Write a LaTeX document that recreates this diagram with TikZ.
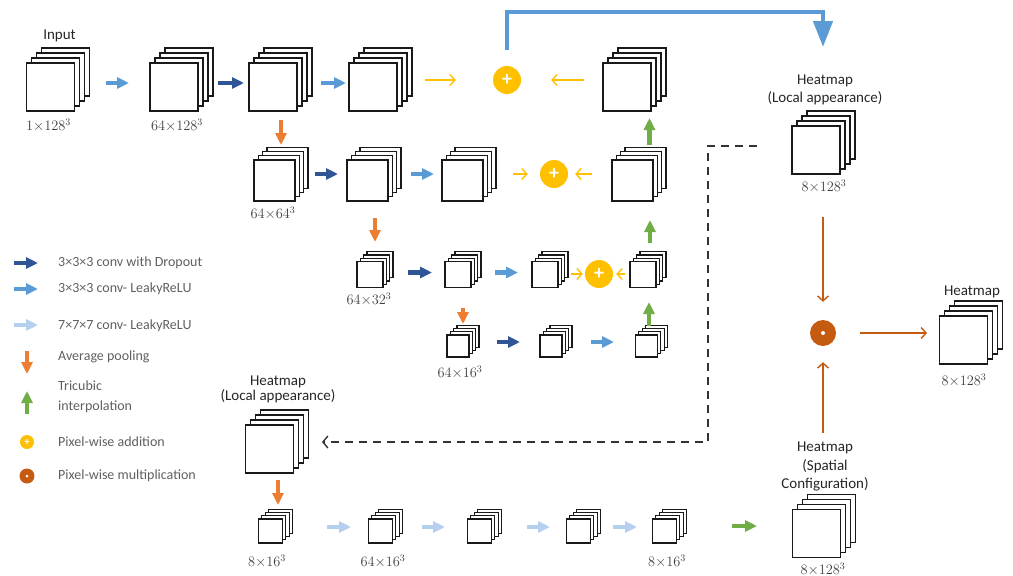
\documentclass[tikz,border=0pt]{standalone}
\usepackage{fontspec}
\setsansfont{Carlito}
\usetikzlibrary{arrows.meta,calc}
\definecolor{cDark}{RGB}{47,85,151}
\definecolor{cBlue}{RGB}{91,155,213}
\definecolor{cLight}{RGB}{180,208,238}
\definecolor{cOrange}{RGB}{237,125,49}
\definecolor{cGreen}{RGB}{112,173,71}
\definecolor{cYellow}{RGB}{255,192,0}
\definecolor{cBrown}{RGB}{197,90,17}
\definecolor{cText}{RGB}{64,64,64}
\definecolor{cLeg}{RGB}{95,95,95}
\tikzset{
  layer/.style={draw=black!90, fill=white, line width=1.2pt, inner sep=0pt, outer sep=0pt},
  blk/.style={line width=4.5pt, -{Triangle[length=12pt,width=11pt]}},
  convD/.style={blk, draw=cDark},
  convB/.style={blk, draw=cBlue},
  convL/.style={blk, draw=cLight},
  pool/.style={blk, draw=cOrange},
  interp/.style={blk, draw=cGreen},
  addarr/.style={draw=cYellow, line width=1.4pt, -{Straight Barb[length=5pt,width=11pt]}},
  mularr/.style={draw=cBrown, line width=1.4pt, -{Straight Barb[length=5pt,width=11pt]}},
  skiparr/.style={draw=cBlue, line width=4.5pt, -{Triangle[length=26pt,width=19pt]}},
  dashline/.style={draw=black!80, line width=1.4pt, dash pattern=on 8pt off 6pt, -{Straight Barb[length=5pt,width=12pt]}},
  addc/.style={circle, fill=cYellow, minimum size=28pt, inner sep=0pt, text=white, font=\sffamily\bfseries\fontsize{20}{20}\selectfont},
  mulc/.style={circle, fill=cBrown, minimum size=26pt, inner sep=0pt},
  head/.style={font=\sffamily\fontsize{15}{18.5}\selectfont, text=black!85, inner sep=0pt, align=center},
  lab/.style={font=\fontsize{14.5}{16}\selectfont, text=cText, inner sep=0pt},
  leg/.style={anchor=west, font=\sffamily\fontsize{14}{20}\selectfont, text=cLeg, inner sep=0pt, align=left}
}
\newcommand{\stk}[4]{%
  \foreach \k in {3,2,1}{\node[layer, minimum size=#3] at ($(#2)+(\k*#4,-\k*#4)$) {};}
  \node[layer, minimum size=#3] (#1) at (#2) {};}
\begin{document}
\begin{tikzpicture}[x=1pt,y=-1pt]
\path[use as bounding box] (0,0) rectangle (1013,576);
% stacks
\stk{in}{50.5,87}{48pt}{5}
\stk{a1}{174,87}{48pt}{5}
\stk{a2}{273,87}{48pt}{5}
\stk{a3}{373,87}{48pt}{5}
\stk{a4}{627,87}{48pt}{5}
\stk{b1}{274.5,180.5}{41pt}{4.3}
\stk{b2}{367.5,180.5}{41pt}{4.3}
\stk{b3}{462.5,180.5}{41pt}{4.3}
\stk{b4}{632.5,180.5}{41pt}{4.3}
\stk{c1}{370,274.5}{26pt}{3.3}
\stk{c2}{458,274.5}{26pt}{3.3}
\stk{c3}{545,274.5}{26pt}{3.3}
\stk{c4}{643,274.5}{26pt}{3.3}
\stk{d1}{458,346}{22pt}{3.3}
\stk{d2}{551,346}{22pt}{3.3}
\stk{d3}{646.5,346}{22pt}{3.3}
\stk{hl}{816,150}{48pt}{5}
\stk{hr}{963.5,340}{48pt}{5}
\stk{hs}{816.5,533.5}{48pt}{5}
\stk{hb}{269.5,449}{48pt}{5}
\stk{e1}{270.5,531}{24pt}{3.3}
\stk{e2}{380.5,531}{24pt}{3.3}
\stk{e3}{479.5,531}{24pt}{3.3}
\stk{e4}{578.5,531}{24pt}{3.3}
\stk{e5}{664.5,531}{24pt}{3.3}
% operators
\node[addc] (p1) at (507,80) {+};
\node[addc] (p2) at (554,174) {+};
\node[addc] (p3) at (599,274) {+};
\node[mulc] (m) at (823,333) {};
\fill[white] (m.center) circle (2pt);
% texts
\node[head] (inT) at (59.5,36) {Input};
\node[lab] (inL) at (48.5,125) {$1{\times}128^3$};
\node[lab] (a1L) at (177,125) {$64{\times}128^3$};
\node[lab] (b1L) at (273,213) {$64{\times}64^3$};
\node[lab] (c1L) at (369,299) {$64{\times}32^3$};
\node[lab] (d1L) at (460,372) {$64{\times}16^3$};
\node[head] (hlT) at (825,90) {Heatmap\\(Local appearance)};
\node[lab] (hlL) at (824,186) {$8{\times}128^3$};
\node[head] (hrT) at (972,292) {Heatmap};
\node[lab] (hrL) at (964,380) {$8{\times}128^3$};
\node[head] (hsT) at (825,466.5) {Heatmap\\(Spatial\\Configuration)};
\node[lab] (hsL) at (823,569) {$8{\times}128^3$};
\node[head, font=\sffamily\fontsize{15}{15}\selectfont] (hbT) at (278,389.5) {Heatmap\\(Local appearance)};
\node[lab] (e1L) at (267,561) {$8{\times}16^3$};
\node[lab] (e2L) at (383,561) {$64{\times}16^3$};
\node[lab] (e5L) at (667,561) {$8{\times}16^3$};
% row 1
\draw[convB, shorten <=31pt, shorten >=21pt] ([yshift=4pt]in.east) -- ([yshift=4pt]a1.west);
\draw[convD, shorten <=20pt, shorten >=5pt] ([yshift=4pt]a1.east) -- ([yshift=4pt]a2.west);
\draw[convB, shorten <=24pt, shorten >=3pt] ([yshift=4pt]a2.east) -- ([yshift=4pt]a3.west);
\draw[addarr, shorten <=28pt, shorten >=37pt] (a3.east |- p1) -- (p1.west);
\draw[addarr, shorten <=19pt, shorten >=30pt] (a4.west |- p1) -- (p1.east);
\coordinate (sk1) at (823,12);
\coordinate (sk2) at (823,47);
\draw[skiparr, shorten <=16pt] (p1.north) |- (sk1) -- (sk2);
% row 2
\draw[convD, shorten <=20pt, shorten >=9pt] ([yshift=6.5pt]b1.east) -- ([yshift=6.5pt]b2.west);
\draw[convB, shorten <=23pt, shorten >=8pt] ([yshift=6.5pt]b2.east) -- ([yshift=6.5pt]b3.west);
\draw[addarr, shorten <=30pt, shorten >=12pt] (b3.east |- p2) -- (p2.west);
\draw[addarr, shorten <=20pt, shorten >=7pt] (b4.west |- p2) -- (p2.east);
% row 3
\draw[convD, shorten <=25pt, shorten >=13pt] ([yshift=2pt]c1.east) -- ([yshift=2pt]c2.west);
\draw[convB, shorten <=24pt, shorten >=14pt] ([yshift=2pt]c2.east) -- ([yshift=2pt]c3.west);
\draw[addarr, shorten <=13pt, shorten >=2pt] (c3.east |- p3) -- (p3.west);
\draw[addarr, shorten <=5pt, shorten >=3pt] (c4.west |- p3) -- (p3.east);
% row 4
\draw[convD, shorten <=28pt, shorten >=20pt] ([yshift=4pt]d1.east) -- ([yshift=4pt]d2.west);
\draw[convB, shorten <=29pt, shorten >=21.5pt] ([yshift=4pt]d2.east) -- ([yshift=4pt]d3.west);
% verticals
\draw[pool, shorten <=9pt, shorten >=15pt] ($(a2.south)+(8,0)$) -- ($(a2.south|-b1.north)+(8,0)$);
\draw[pool, shorten <=17pt, shorten >=19.5pt] ($(b2.south)+(7.5,0)$) -- ($(b2.south|-c1.north)+(7.5,0)$);
\draw[pool, shorten <=20.5pt, shorten >=11pt] ($(c2.south)+(5,0)$) -- ($(c2.south|-d1.north)+(5,0)$);
\draw[interp, shorten <=9pt, shorten >=14.5pt] ($(d3.north)+(2.5,0)$) -- ($(d3.north|-c4.south)+(2.5,0)$);
\draw[interp, shorten <=18.5pt, shorten >=19pt] ($(c4.north)+(7,0)$) -- ($(c4.north|-b4.south)+(7,0)$);
\draw[interp, shorten <=15pt, shorten >=7pt] ($(b4.north)+(17,0)$) -- ($(b4.north|-a4.south)+(17,0)$);
% bottom row
\draw[pool, shorten <=7pt, shorten >=14pt] ($(hb.south)+(8.5,0)$) -- ($(hb.south|-e1.north)+(8.5,0)$);
\draw[convL, shorten <=44.5pt, shorten >=17.5pt] ([yshift=4pt]e1.east) -- ([yshift=4pt]e2.west);
\draw[convL, shorten <=29.5pt, shorten >=22.5pt] ([yshift=4pt]e2.east) -- ([yshift=4pt]e3.west);
\draw[convL, shorten <=35.5pt, shorten >=16.5pt] ([yshift=4pt]e3.east) -- ([yshift=4pt]e4.west);
\draw[convL, shorten <=22.5pt, shorten >=15.5pt] ([yshift=4pt]e4.east) -- ([yshift=4pt]e5.west);
\draw[interp, shorten <=55.5pt, shorten >=35.5pt] ($(e5.east)+(0,-5)$) -- ($(e5.east -| hs.west)+(0,-5)$);
% multiplication branch
\draw[mularr, shorten <=43pt, shorten >=18pt] (m |- hl.south) -- (m.north);
\draw[mularr, shorten <=76.5pt, shorten >=16pt] (m |- hs.north) -- (m.south);
\draw[mularr, shorten <=24pt, shorten >=12.5pt] (m.east) -- (m.east -| hr.west);
% dashed
\coordinate (dc1) at (708,146);
\coordinate (dc2) at (708,442);
\draw[dashline, shorten <=35pt, shorten >=28.5pt] (hl.west |- dc1) -- (dc1) -- (dc2) -- (dc2 -| hb.east);
% legend
\node[leg] (l1) at (58,263) {3×3×3 conv with Dropout};
\node[leg] (l2) at (58,289) {3×3×3 conv- LeakyReLU};
\node[leg] (l3) at (58,326) {7×7×7 conv- LeakyReLU};
\node[leg] (l4) at (58,357) {Average pooling};
\node[leg] (l5) at (58,397) {Tricubic\\interpolation};
\node[leg] (l6) at (58,442) {Pixel-wise addition};
\node[leg] (l7) at (58,476) {Pixel-wise multiplication};
\draw[convD] ($(l1.west)+(-44,0)$) -- ++(24,0);
\draw[convB] ($(l2.west)+(-44,0)$) -- ++(24,0);
\draw[convL] ($(l3.west)+(-44,-1)$) -- ++(24,0);
\draw[pool] ($(l4.west)+(-31,-6)$) -- ++(0,23);
\draw[interp] ($(l5.west)+(-31,17)$) -- ++(0,-23);
\node[addc, minimum size=14pt, font=\sffamily\bfseries\fontsize{11}{11}\selectfont] (lp) at ($(l6.west)+(-31,0)$) {+};
\node[mulc, minimum size=15pt] (lm) at ($(l7.west)+(-31,0)$) {};
\fill[white] (lm.center) circle (1.5pt);
\end{tikzpicture}
\end{document}
